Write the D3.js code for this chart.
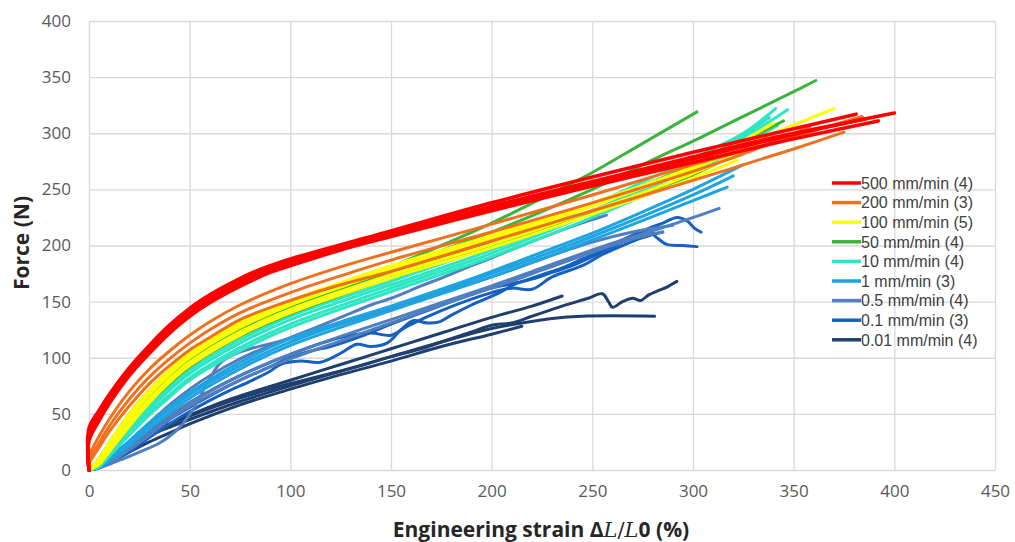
<!DOCTYPE html>
<html><head><meta charset="utf-8">
<script src="https://cdn.jsdelivr.net/npm/d3@7"></script>
<style>body{margin:0;background:#fff;} svg{display:block;}</style>
</head><body><svg id="c" width="1015" height="542"></svg>
<script>
const xTicks = [0,50,100,150,200,250,300,350,400,450];
const yTicks = [0,50,100,150,200,250,300,350,400];
const seriesLabels = ["500 mm/min (4)","200 mm/min (3)","100 mm/min (5)","50 mm/min (4)","10 mm/min (4)","1 mm/min (3)","0.5 mm/min (4)","0.1 mm/min (3)","0.01 mm/min (4)"];

// each series: list of specimen curves, each a list of [strain %, force N]
const rate500 = [
 [[0,0],[0,33],[5,50],[10,64],[20,88],[30,108],[40,126],[50,141],[60,153],[70,163],[80,172],[90,180],[100,186],[125,199],[150,211],[175,223],[200,235],[225,246],[250,257],[275,268],[300,279],[325,290],[350,300],[375,309],[400,318]],
 [[0,0],[0,26],[5,44],[10,59],[20,84],[30,104],[40,122],[50,137],[60,149],[70,159],[80,168],[90,176],[100,182],[125,196],[150,208],[200,231],[250,253],[300,274],[350,295],[392,311]],
 [[0,0],[0,37],[5,53],[10,67],[20,91],[30,111],[40,129],[50,144],[60,156],[70,166],[80,175],[90,182],[100,188],[150,213],[200,238],[250,261],[300,283],[350,304],[381,317]],
 [[0,0],[0,30],[5,47],[10,62],[20,86],[30,106],[40,124],[50,139],[60,151],[70,161],[80,170],[90,178],[100,184],[150,210],[200,233],[250,255],[300,277],[350,299],[386,313]]
];
const rate200 = [
 [[0,0],[0,12],[5,30],[10,45],[20,70],[30,90],[40,106],[50,120],[60,132],[75,147],[100,166],[125,181],[150,194],[200,219],[250,245],[300,272],[350,297],[384,315]],
 [[0,0],[0,8],[5,24],[10,39],[20,63],[30,83],[40,99],[50,113],[60,125],[75,140],[100,158],[125,173],[150,187],[200,212],[250,238],[300,266],[330,285],[358,306]],
 [[0,0],[0,5],[5,20],[10,34],[20,57],[30,77],[40,93],[50,107],[60,118],[75,134],[100,151],[125,165],[150,177],[200,204],[250,231],[300,258],[350,286],[375,301]]
];
const rate100 = [
 [[0,0],[5,10],[10,24],[20,50],[30,71],[40,89],[50,104],[75,131],[100,151],[125,167],[150,182],[200,209],[250,238],[300,270],[340,300],[370,322]],
 [[0,0],[5,8],[10,21],[20,46],[30,67],[40,85],[50,100],[75,127],[100,147],[125,163],[150,178],[200,205],[250,235],[300,270],[340,309]],
 [[0,0],[5,6],[10,18],[20,42],[30,63],[40,81],[50,96],[75,123],[100,143],[125,159],[150,174],[200,201],[250,231],[300,264],[332,290]],
 [[0,0],[5,9],[10,22],[20,48],[30,69],[40,87],[50,102],[75,129],[100,149],[150,180],[200,207],[250,236],[300,268],[338,300]],
 [[0,0],[5,5],[10,16],[20,39],[30,60],[40,78],[50,93],[75,120],[100,140],[150,171],[200,198],[250,228],[300,260],[322,276]]
];
const rate50 = [
 [[0,0],[5,8],[10,21],[20,46],[30,67],[40,84],[50,99],[75,125],[100,145],[125,163],[150,181],[175,200],[200,220],[225,242],[250,265],[275,291],[302,319]],
 [[0,0],[5,10],[10,24],[20,50],[30,71],[40,89],[50,104],[75,131],[100,150],[150,180],[200,212],[250,250],[282,278],[300,293],[325,315],[350,337],[361,347]],
 [[0,0],[5,7],[10,19],[20,43],[30,64],[40,81],[50,96],[75,124],[100,144],[150,176],[200,204],[250,236],[300,272],[345,311]],
 [[0,0],[5,6],[10,16],[20,39],[30,60],[40,77],[50,92],[75,119],[100,139],[150,171],[200,199],[250,229],[300,263],[330,290]]
];
const rate10 = [
 [[0,0],[5,5],[10,15],[20,35],[30,54],[40,71],[50,86],[75,113],[100,134],[125,150],[150,165],[175,180],[200,196],[225,213],[250,231],[275,251],[300,272],[325,296],[347,321]],
 [[0,0],[5,6],[10,17],[20,38],[30,57],[40,74],[50,89],[75,116],[100,137],[150,168],[200,200],[250,236],[300,278],[325,300],[341,322]],
 [[0,0],[5,4],[10,13],[20,33],[30,51],[40,67],[50,82],[75,109],[100,130],[150,162],[200,193],[250,229],[300,270],[338,314]],
 [[0,0],[5,3],[10,12],[20,31],[30,49],[40,65],[50,80],[75,106],[100,127],[150,159],[200,190],[250,225],[300,265],[342,307]]
];
const rate1 = [
 [[0,0],[5,3],[10,10],[20,26],[30,42],[40,56],[50,69],[75,96],[100,117],[125,132],[150,146],[175,161],[200,177],[225,194],[250,211],[275,230],[300,250],[325,272]],
 [[0,0],[5,2],[10,8],[20,22],[30,37],[40,51],[50,64],[75,90],[100,111],[150,142],[200,172],[250,205],[300,240],[317,252]],
 [[0,0],[5,3],[10,9],[20,24],[30,40],[40,54],[50,67],[75,93],[100,114],[150,145],[200,175],[250,208],[300,245],[320,262]]
];
const rate05 = [
 [[0,0],[5,3],[10,9],[20,25],[30,42],[40,58],[50,72],[60,84],[75,99],[90,111],[100,118],[110,125],[125,136],[140,147],[150,153],[165,164],[175,171],[190,182],[200,189],[215,200],[225,207],[240,217],[250,223],[257,227]],
 [[0,0],[10,7],[20,20],[30,34],[40,48],[50,60],[75,84],[100,103],[125,119],[150,134],[175,149],[200,164],[225,180],[250,196],[265,205],[280,213],[295,222],[305,228],[313,233]],
 [[0,0],[5,2],[10,5],[17,10],[25,16],[35,24],[45,38],[52,55],[58,75],[65,95],[72,103],[80,108],[100,117],[125,130],[150,143],[175,158],[200,172],[225,188],[250,203],[270,212],[290,218]],
 [[0,0],[10,6],[20,18],[30,31],[40,45],[50,57],[75,80],[100,99],[125,115],[150,131],[175,147],[200,162],[225,178],[250,194],[270,206],[285,212]]
];
const rate01 = [
 [[0,0],[5,2],[10,6],[20,16],[30,29],[40,41],[50,52],[60,62],[70,71],[80,79],[90,88],[95,94],[105,97],[115,96],[125,104],[133,112],[140,110],[148,113],[155,125],[161,133],[168,131],[174,132],[180,138],[190,147],[204,158],[212,166],[220,170],[230,176],[240,182],[250,190],[260,199],[270,207],[278,213],[282,207],[287,201],[295,200],[302,199]],
 [[0,0],[5,2],[10,7],[20,19],[30,32],[40,45],[50,56],[60,66],[75,80],[90,92],[100,100],[110,106],[120,110],[135,119],[150,130],[165,140],[180,150],[195,160],[205,164],[215,168],[225,174],[235,180],[245,188],[255,196],[265,205],[275,213],[285,220],[292,225],[297,222],[301,215],[304,212]],
 [[0,0],[10,8],[20,21],[30,35],[40,48],[50,60],[75,84],[100,103],[125,118],[140,122],[150,120],[158,128],[175,142],[200,158],[210,162],[220,161],[230,172],[245,182],[255,192],[265,200],[275,207],[285,212]]
];
const rate001 = [
 [[0,0],[5,6],[10,13],[20,24],[30,33],[45,45],[70,63],[100,80],[125,94],[150,108],[175,122],[200,136],[220,146],[235,155]],
 [[0,0],[5,5],[10,11],[20,22],[30,31],[50,45],[75,61],[100,75],[125,88],[150,101],[175,114],[200,126],[215,131],[230,135],[245,137],[281,137]],
 [[0,0],[5,5],[10,12],[20,23],[30,33],[50,48],[75,64],[100,77],[120,86],[135,93],[150,101],[165,108],[175,114],[190,123],[200,129],[210,131],[220,137],[235,146],[248,153],[255,157],[258,150],[260,145],[265,150],[270,153],[274,151],[278,156],[283,160],[287,163],[290,166],[292,168]],
 [[0,0],[5,3],[10,7],[20,16],[30,25],[40,33],[50,41],[75,58],[100,72],[125,85],[150,97],[175,110],[200,121],[215,128]]
];
const seriesData = [rate500, rate200, rate100, rate50, rate10, rate1, rate05, rate01, rate001];
const seriesColors = ["#ff0000","#f0701e","#ffff00","#3cb43c","#2ee6c4","#1ea4e0","#4f7fc0","#1660c0","#1f3f6e"];

const svg = d3.select("#c");
const x = d3.scaleLinear().domain([0,450]).range([89,995]);
const y = d3.scaleLinear().domain([0,400]).range([470,21]);
const FONT = "'Open Sans', 'Liberation Sans', sans-serif";

// gridlines
svg.append("g").attr("transform","translate(0,470)")
  .call(d3.axisBottom(x).tickValues(xTicks).tickSize(-449).tickFormat(""))
  .call(g=>{g.select(".domain").remove(); g.selectAll("line").attr("stroke","#d9d9d9").attr("stroke-width",1.3);});
svg.append("g").attr("transform","translate(89,0)")
  .call(d3.axisLeft(y).tickValues(yTicks).tickSize(-906).tickFormat(""))
  .call(g=>{g.select(".domain").remove(); g.selectAll("line").attr("stroke","#d9d9d9").attr("stroke-width",1.3);});

// tick labels
svg.append("g").attr("transform","translate(0,470)")
  .call(d3.axisBottom(x).tickValues(xTicks).tickSize(0).tickPadding(15).tickFormat(d3.format("d")))
  .call(g=>{g.select(".domain").remove(); g.selectAll("text").attr("fill","#595959").style("font-family",FONT).style("font-size","17px");});
svg.append("g").attr("transform","translate(89,0)")
  .call(d3.axisLeft(y).tickValues(yTicks).tickSize(0).tickPadding(18).tickFormat(d3.format("d")))
  .call(g=>{g.select(".domain").remove(); g.selectAll("text").attr("fill","#595959").style("font-family",FONT).style("font-size","17px");});

// curves (draw last series first so 500 mm/min is on top)
const line = d3.line().x(d=>x(d[0])).y(d=>y(d[1])).curve(d3.curveCatmullRom.alpha(0.5));
const plot = svg.append("g");
for (let i = seriesData.length-1; i >= 0; i--) {
  plot.append("g").selectAll("path").data(seriesData[i]).join("path")
    .attr("d", line).attr("fill","none").attr("stroke", seriesColors[i])
    .attr("stroke-width", i===0 ? 3.6 : 3).attr("stroke-linejoin","round").attr("stroke-linecap","round");
}

// legend
const leg = svg.append("g");
seriesLabels.forEach((lab,i)=>{
  const yy = 183 + i*19.6;
  leg.append("line").attr("x1",832).attr("x2",861).attr("y1",yy).attr("y2",yy)
    .attr("stroke",seriesColors[i]).attr("stroke-width",3.5);
  leg.append("text").attr("x",861).attr("y",yy).attr("dy","0.36em").text(lab)
    .attr("fill","#404040").style("font-family","'Liberation Sans', Arial, sans-serif").style("font-size","16px");
});

// axis titles
const xt = svg.append("text").attr("x",541).attr("y",537).attr("text-anchor","middle")
  .attr("fill","#262626").style("font-family",FONT).style("font-size","21px").style("font-weight","bold");
xt.append("tspan").text("Engineering strain Δ");
xt.append("tspan").text("L").style("font-family","'DejaVu Serif', serif").style("font-style","italic").style("font-weight","normal");
xt.append("tspan").text("/").style("font-weight","normal").style("font-family","'DejaVu Serif', serif");
xt.append("tspan").text("L").style("font-family","'DejaVu Serif', serif").style("font-style","italic").style("font-weight","normal");
xt.append("tspan").text("0 (%)");

svg.append("text").attr("transform","translate(29,243) rotate(-90)").attr("text-anchor","middle")
  .attr("fill","#262626").style("font-family",FONT).style("font-size","21px").style("font-weight","bold")
  .text("Force (N)");
</script></body></html>
